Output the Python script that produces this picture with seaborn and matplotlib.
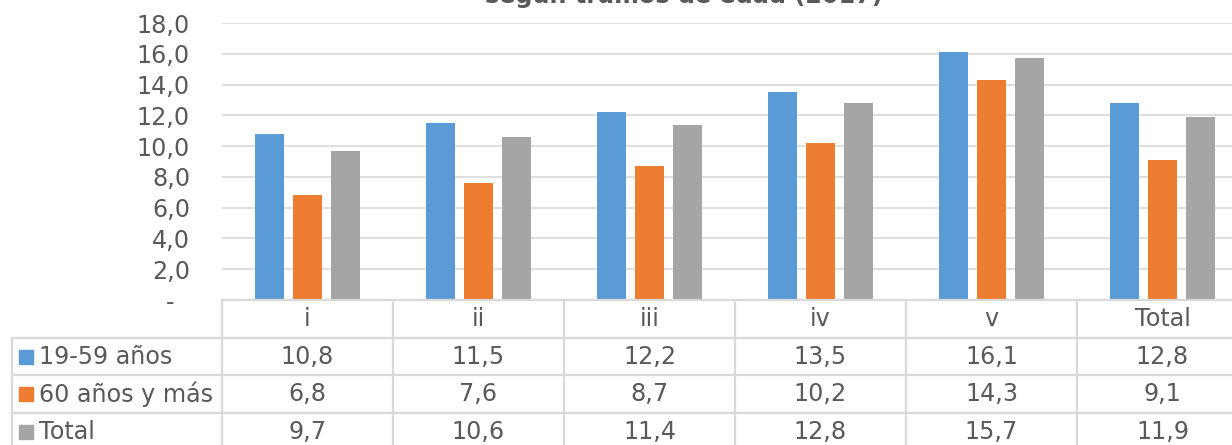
import numpy as np
import pandas as pd
import matplotlib
matplotlib.use("Agg")
import matplotlib.pyplot as plt
import matplotlib.transforms as mtransforms
import seaborn as sns

# ###data
tramos = ["i", "ii", "iii", "iv", "v", "Total"]
grupos = ["19-59 años", "60 años y más", "Total"]
val_19_59 = [10.8, 11.5, 12.2, 13.5, 16.1, 12.8]
val_60_mas = [6.8, 7.6, 8.7, 10.2, 14.3, 9.1]
val_total = [9.7, 10.6, 11.4, 12.8, 15.7, 11.9]
y_ticks = [0, 2, 4, 6, 8, 10, 12, 14, 16, 18]
titulo = "según tramos de edad (2017)"

colores = ["#5b9bd5", "#ed7d31", "#a5a5a5"]
txt_col = "#595959"
grid_col = "#d9d9d9"
fs = 17.2

series = [val_19_59, val_60_mas, val_total]
df = pd.DataFrame({
    "tramo": np.tile(tramos, len(grupos)),
    "grupo": np.repeat(grupos, len(tramos)),
    "valor": np.concatenate(series),
})

fig = plt.figure(figsize=(12.32, 4.45), dpi=100)
# axes runs a bit past the right edge, like the cropped original
ax = fig.add_axes([222 / 1232, 145 / 445, 1026 / 1232, 277 / 445])

sns.barplot(data=df, x="tramo", y="valor", hue="grupo", order=tramos,
            hue_order=grupos, palette=colores, saturation=1, width=0.66,
            gap=0.23, linewidth=0, legend=False, ax=ax)

ax.set_xlim(-0.5, len(tramos) - 0.5)
ax.set_ylim(0, 18)
ax.set_yticks(y_ticks)
ax.set_yticklabels(["-  " if t == 0 else f"{t:.1f}".replace(".", ",") for t in y_ticks],
                   fontsize=fs, color=txt_col)
ax.tick_params(axis="y", length=0, pad=23)
ax.set_xticks([])
ax.set_xlabel("")
ax.set_ylabel("")
for s in ax.spines.values():
    s.set_visible(False)
ax.yaxis.grid(True, color=grid_col, lw=1.2)
ax.set_axisbelow(True)

# ###data table under the chart
tr = mtransforms.blended_transform_factory(ax.transData, ax.transAxes)
row_h = 37.7 / 277
x_left = -0.5 - 210 / 171
x_right = len(tramos) - 0.5
lkw = dict(color=grid_col, lw=1.6, transform=tr, clip_on=False)

# horizontal lines
ax.plot([-0.5, x_right], [0, 0], **lkw)
for k in range(1, 4):
    ax.plot([x_left, x_right], [-k * row_h, -k * row_h], **lkw)
# vertical lines
for i in range(len(tramos) + 1):
    ax.plot([i - 0.5, i - 0.5], [0, -4 * row_h], **lkw)
ax.plot([x_left, x_left], [-row_h, -4 * row_h], **lkw)

# header row
for i, t in enumerate(tramos):
    ax.text(i, -0.5 * row_h, t, ha="center", va="center", fontsize=fs,
            color=txt_col, transform=tr)

# value rows with legend keys
for k, (g, vals, c) in enumerate(zip(grupos, series, colores)):
    yc = -(k + 1.5) * row_h
    ax.plot([x_left + 14 / 171], [yc], marker="s", ms=9.5, color=c,
            transform=tr, clip_on=False, lw=0)
    ax.text(x_left + 27 / 171, yc, g, ha="left", va="center", fontsize=fs,
            color=txt_col, transform=tr)
    for i, v in enumerate(vals):
        ax.text(i, yc, f"{v:.1f}".replace(".", ","), ha="center", va="center",
                fontsize=fs, color=txt_col, transform=tr)

# title, cut off at the top as in the source image
fig.text(683.5 / 1232, 1 - 3 / 445, titulo, ha="center", va="baseline",
         fontsize=fs, fontweight="bold", color=txt_col)

plt.savefig("out.png", dpi=100)
